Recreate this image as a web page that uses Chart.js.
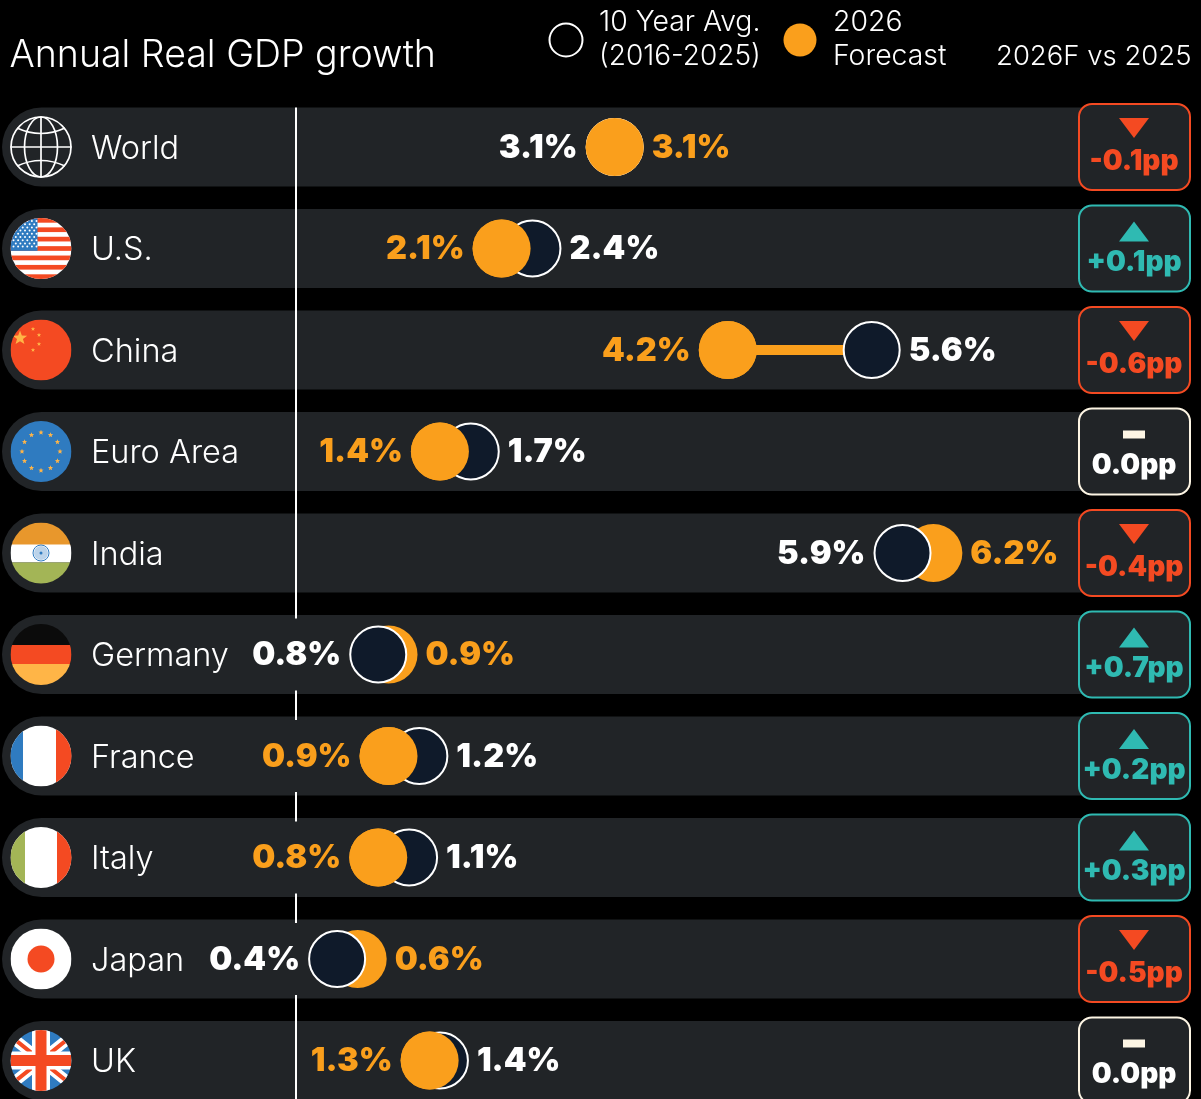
<!DOCTYPE html>
<html><head><meta charset="utf-8">
<style>html,body{margin:0;padding:0;background:#000;overflow:hidden}canvas{display:block}</style>
<script src="https://cdn.jsdelivr.net/npm/chart.js@4"></script>
</head><body><div style="width:1201px;height:1099px;position:relative"><canvas id="c" width="1201" height="1099"></canvas></div>
<script>
const titleText = 'Annual Real GDP growth';
const categories = ['World','U.S.','China','Euro Area','India','Germany','France','Italy','Japan','UK'];
// Positions as plotted in the picture (the U.S. dots sit slightly left of their printed labels)
const avg10y   = [3.1,2.3,5.6,1.7,5.9,0.8,1.2,1.1,0.4,1.4];
const forecast = [3.1,2.0,4.2,1.4,6.2,0.9,0.9,0.8,0.6,1.3];
// Printed value labels
const avgLabels      = ['3.1%','2.4%','5.6%','1.7%','5.9%','0.8%','1.2%','1.1%','0.4%','1.4%'];
const forecastLabels = ['3.1%','2.1%','4.2%','1.4%','6.2%','0.9%','0.9%','0.8%','0.6%','1.3%'];
const changePP = [-0.1,0.1,-0.6,0,-0.4,0.7,0.2,0.3,-0.5,0];

const C = {bg:'#000',row:'#212427',orange:'#FA9F1C',red:'#F44A22',teal:'#2FBAB2',navy:'#0F1A2A',white:'#FFFFFF',cream:'#FDF5E4',blue:'#2F7BC0',green:'#A3B556',saffron:'#E8972C',gold:'#FFB547'};
const VALUE_FONT = '900 32.5px Inter';
const PP_FONT = '900 28px Inter';

function star(ctx,x,y,r,color){ctx.fillStyle=color;ctx.beginPath();for(let i=0;i<10;i++){const a=-Math.PI/2+i*Math.PI/5,q=i%2?r*0.42:r;ctx[i?'lineTo':'moveTo'](x+q*Math.cos(a),y+q*Math.sin(a));}ctx.closePath();ctx.fill();}
function flag(ctx,name,cx,cy){
  const r=30.5,L=cx-r,T=cy-r,D=2*r;
  ctx.save();
  if(name==='World'){
    ctx.strokeStyle=C.white;ctx.lineWidth=1.7;
    ctx.beginPath();ctx.arc(cx,cy,r-.5,0,7);ctx.stroke();
    ctx.beginPath();ctx.ellipse(cx,cy,16.5,r-.5,0,0,7);ctx.stroke();
    ctx.beginPath();ctx.moveTo(cx,cy-r);ctx.lineTo(cx,cy+r);ctx.moveTo(cx-r,cy);ctx.lineTo(cx+r,cy);ctx.stroke();
    ctx.beginPath();ctx.moveTo(cx-24,cy-19);ctx.quadraticCurveTo(cx,cy-8,cx+24,cy-19);ctx.moveTo(cx-24,cy+19);ctx.quadraticCurveTo(cx,cy+8,cx+24,cy+19);ctx.stroke();
    ctx.restore();return;
  }
  ctx.beginPath();ctx.arc(cx,cy,r,0,7);ctx.clip();
  const rect=(c,x,y,w,h)=>{ctx.fillStyle=c;ctx.fillRect(x,y,w,h);};
  if(name==='U.S.'){
    rect(C.white,L,T,D,D);
    for(let i=0;i<7;i++)rect(C.red,L,T+i*D*2/13,D,D/13);
    rect(C.blue,L,T,27,D*7/13);
    for(let j=0;j<9;j++)for(let i=0;i<(j%2?5:6);i++){ctx.fillStyle='#fff';ctx.beginPath();ctx.arc(L+3+i*4.6+(j%2?2.3:0),T+3+j*3.2,1,0,7);ctx.fill();}
  }else if(name==='China'){
    rect(C.red,L,T,D,D);
    star(ctx,cx-21,cy-12,7.5,C.gold);
    [[-8,-21,2.3],[-2,-15,2.3],[-2,-6,2.3],[-8,0,2.3]].forEach(s=>star(ctx,cx+s[0],cy+s[1],s[2],C.gold));
  }else if(name==='Euro Area'){
    rect(C.blue,L,T,D,D);
    for(let i=0;i<12;i++){const a=i*Math.PI/6;star(ctx,cx+19*Math.cos(a),cy+19*Math.sin(a),2.8,C.gold);}
  }else if(name==='India'){
    rect(C.saffron,L,T,D,23);rect(C.white,L,T+22,D,18);rect(C.green,L,T+40,D,22);
    ctx.strokeStyle=C.blue;ctx.lineWidth=1;ctx.beginPath();ctx.arc(cx,cy,8,0,7);ctx.stroke();
    ctx.fillStyle='#BBD3EA';ctx.beginPath();ctx.arc(cx,cy,7,0,7);ctx.fill();
    ctx.fillStyle=C.blue;ctx.beginPath();ctx.arc(cx,cy,1.5,0,7);ctx.fill();
  }else if(name==='Germany'){
    rect('#0B0B0B',L,T,D,21);rect(C.red,L,T+21,D,19);rect(C.gold,L,T+40,D,22);
  }else if(name==='France'){
    rect(C.white,L,T,D,D);rect(C.blue,L,T,12.5,D);rect(C.red,L+45.5,T,16,D);
  }else if(name==='Italy'){
    rect(C.white,L,T,D,D);rect(C.green,L,T,14.5,D);rect(C.red,L+46.5,T,15,D);
  }else if(name==='Japan'){
    rect(C.white,L,T,D,D);ctx.fillStyle=C.red;ctx.beginPath();ctx.arc(cx,cy,13.5,0,7);ctx.fill();
  }else if(name==='UK'){
    rect(C.blue,L,T,D,D);
    ctx.lineCap='butt';
    ctx.strokeStyle=C.white;ctx.lineWidth=11;ctx.beginPath();ctx.moveTo(L,T+6);ctx.lineTo(L+D,T+D-6);ctx.moveTo(L+D,T+6);ctx.lineTo(L,T+D-6);ctx.stroke();
    ctx.strokeStyle=C.red;ctx.lineWidth=4;ctx.beginPath();ctx.moveTo(L,T+6);ctx.lineTo(L+D,T+D-6);ctx.moveTo(L+D,T+6);ctx.lineTo(L,T+D-6);ctx.stroke();
    rect(C.white,cx-9,T,18,D);rect(C.white,L,cy-9,D,18);
    rect(C.red,cx-5.5,T,11,D);rect(C.red,L,cy-5.5,D,11);
  }
  ctx.restore();
}
const fmtPP=v=>(v>0?'+':'')+v.toFixed(1)+'pp';
const LABEL_GAP=8,R=29,ROW_H=79;

function labelBoxes(ctx,i,xs){
  const a=avg10y[i],f=forecast[i];
  const avgLeft=a<=f;
  const ax=xs.getPixelForValue(a),fx=xs.getPixelForValue(f);
  ctx.font=VALUE_FONT;
  const at=avgLabels[i],ft=forecastLabels[i];
  return {at,ft,ax:avgLeft?ax-R-LABEL_GAP:ax+R+LABEL_GAP,aAlign:avgLeft?'right':'left',fx:avgLeft?fx+R+LABEL_GAP:fx-R-LABEL_GAP,fAlign:avgLeft?'left':'right',aw:ctx.measureText(at).width,fw:ctx.measureText(ft).width};
}
const scene={id:'scene',
  beforeDraw(ch){
    const ctx=ch.ctx,ys=ch.scales.y;
    ctx.save();ctx.fillStyle=C.bg;ctx.fillRect(0,0,ch.width,ch.height);
    categories.forEach((n,i)=>{const y=ys.getPixelForValue(i);
      ctx.fillStyle=C.row;ctx.beginPath();ctx.roundRect(2,y-ROW_H/2,1090,ROW_H,[ROW_H/2,0,0,ROW_H/2]);ctx.fill();});
    ctx.restore();
  },
  beforeDatasetsDraw(ch){
    const ctx=ch.ctx,ys=ch.scales.y,xs=ch.scales.x,x0=xs.getPixelForValue(0);
    ctx.save();
    ctx.fillStyle=C.white;
    ctx.fillRect(x0-1,ys.getPixelForValue(0)-ROW_H/2,2,ch.height);
    categories.forEach((n,i)=>{const b=labelBoxes(ctx,i,xs),y=ys.getPixelForValue(i);
      const l=Math.min(b.aAlign==='right'?b.ax-b.aw:b.ax,b.fAlign==='right'?b.fx-b.fw:b.fx);
      if(l<x0+2){ctx.fillStyle=C.row;ctx.fillRect(x0-2,y-36,4,72);}
    });
    ctx.restore();
  },
  afterDatasetsDraw(ch){
    const ctx=ch.ctx,ys=ch.scales.y,xs=ch.scales.x;
    const fm=ch.getDatasetMeta(1);
    ctx.save();
    forecast.forEach((f,i)=>{if(f<=avg10y[i])fm.data[i].draw(ctx);});
    ctx.textBaseline='middle';
    categories.forEach((n,i)=>{
      const y=ys.getPixelForValue(i);
      flag(ctx,n,41,y);
      const b=labelBoxes(ctx,i,xs);
      ctx.font=VALUE_FONT;
      ctx.textAlign=b.aAlign;ctx.fillStyle=C.white;ctx.fillText(b.at,b.ax,y+1);
      ctx.textAlign=b.fAlign;ctx.fillStyle=C.orange;ctx.fillText(b.ft,b.fx,y+1);
      // change box
      const d=changePP[i],col=d>0?C.teal:d<0?C.red:C.cream;
      ctx.fillStyle=C.row;ctx.strokeStyle=col;ctx.lineWidth=2;
      ctx.beginPath();ctx.roundRect(1079,y-43,111,86,13);ctx.fill();ctx.stroke();
      ctx.fillStyle=col;ctx.beginPath();
      if(d<0){ctx.moveTo(1119,y-29);ctx.lineTo(1149,y-29);ctx.lineTo(1134,y-9);}
      else if(d>0){ctx.moveTo(1119,y-7);ctx.lineTo(1149,y-7);ctx.lineTo(1134,y-27);}
      else{ctx.rect(1123,y-21,22,8);}
      ctx.closePath();ctx.fill();
      ctx.font=PP_FONT;ctx.textAlign='center';ctx.fillStyle=d===0?C.white:col;
      ctx.fillText(fmtPP(d),1134,y+14.5);
    });
    // header
    ctx.textAlign='left';ctx.textBaseline='alphabetic';ctx.fillStyle=C.white;
    ctx.font='300 37.5px Inter';ctx.fillText(titleText,9.5,67);
    ctx.font='300 28.4px Inter';
    ctx.fillText('10 Year Avg.',599,31);
    ctx.fillText('2026',833,31);ctx.fillText('Forecast',833,65);
    ctx.font='300 28px Inter';ctx.fillText('(2016-2025)',599,65);
    ctx.font='300 27.5px Inter';
    ctx.fillText('2026F vs 2025',996,65);
    ctx.strokeStyle=C.white;ctx.lineWidth=2;ctx.fillStyle='#000';
    ctx.beginPath();ctx.arc(566,40,16.5,0,7);ctx.fill();ctx.stroke();
    ctx.fillStyle=C.orange;ctx.beginPath();ctx.arc(800,40,16.5,0,7);ctx.fill();
    ctx.restore();
  }
};
const links=[];
categories.forEach((n,i)=>{links.push({x:forecast[i],y:i},{x:avg10y[i],y:i},{x:null,y:null});});
new Chart(document.getElementById('c'),{
  type:'scatter',
  data:{datasets:[
    {label:'Gap',data:links,showLine:true,borderColor:C.orange,borderWidth:10,pointRadius:0,spanGaps:false,clip:false,order:3},
    {label:'2026 Forecast',data:forecast.map((v,i)=>({x:v,y:i})),backgroundColor:C.orange,borderWidth:0,pointRadius:R,clip:false,order:2},
    {label:'10 Year Avg. (2016-2025)',data:avg10y.map((v,i)=>({x:v,y:i})),backgroundColor:C.navy,borderColor:C.white,borderWidth:2,pointRadius:28,clip:false,order:1}
  ]},
  options:{
    responsive:false,animation:false,events:[],
    layout:{autoPadding:false,padding:{left:91,top:0,right:0,bottom:0}},
    plugins:{legend:{display:false},tooltip:{enabled:false}},
    scales:{
      x:{type:'linear',display:false,min:0,max:905/102.8,ticks:{display:false},grid:{display:false},border:{display:false}},
      y:{type:'linear',reverse:true,min:-147/101.5,max:(1099-147)/101.5,
        afterFit(s){s.width=205;s.paddingTop=0;s.paddingBottom=0;},
        grid:{display:false},border:{display:false},
        ticks:{stepSize:1,includeBounds:false,crossAlign:'far',padding:0,labelOffset:2,autoSkip:false,color:C.white,
          font:{family:'Inter',size:32.5,weight:'300'},
          callback:v=>categories[v]??''}
      }
    }
  },
  plugins:[scene]
});
</script></body></html>
